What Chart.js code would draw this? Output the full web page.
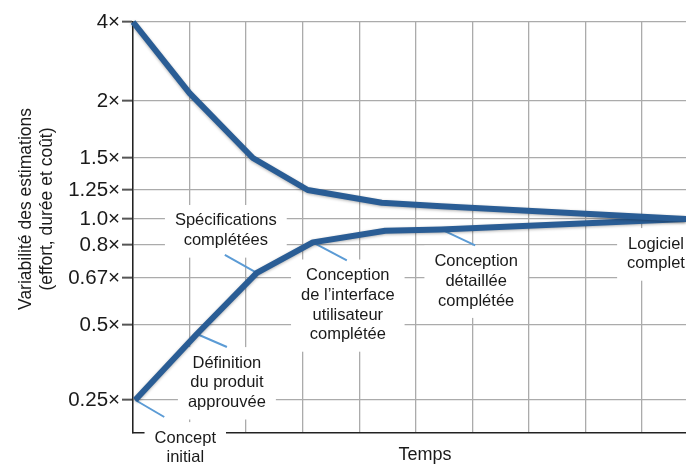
<!DOCTYPE html>
<html>
<head>
<meta charset="utf-8">
<script src="https://cdn.jsdelivr.net/npm/chart.js@4/dist/chart.umd.min.js"></script>
<style>
  html, body { margin: 0; padding: 0; background: #fff; overflow: hidden; }
  canvas { display: block; }
</style>
</head>
<body>
<canvas id="cone" width="686" height="464"></canvas>
<script>
// Cone of uncertainty
const yTicks = [0.25, 0.5, 0.67, 0.8, 1.0, 1.25, 1.5, 2, 4];
const yTickLabels = ['0.25×', '0.5×', '0.67×', '0.8×', '1.0×', '1.25×', '1.5×', '2×', '4×'];
// the drawing spaces its ticks unevenly: height of each tick above the time axis
const yTickLevel = [33, 108, 155, 188, 214, 243, 275, 332, 411];

const upperTime = [0, 1.0, 2.12, 3.09, 4.4, 5.45, 9.78];
const upperRange = [4, 2.2, 1.5, 1.25, 1.14, 1.11, 1.0];
const lowerTime = [0.04, 1.13, 2.19, 3.18, 4.46, 5.45, 9.78];
const lowerRange = [0.25, 0.47, 0.69, 0.82, 0.91, 0.92, 1.0];

const milestones = [
    ['Concept', 'initial'],
    ['Définition', 'du produit', 'approuvée'],
    ['Spécifications', 'complétées'],
    ['Conception', 'de l’interface', 'utilisateur', 'complétée'],
    ['Conception', 'détaillée', 'complétée'],
    ['Logiciel', 'complet']
];
const milestonePoint = [0, 1, 2, 3, 5, 6]; // index on the lower curve

const yTitle = ['Variabilité des estimations', '(effort, durée et coût)'];
const xTitle = 'Temps';

const FONT = '"Liberation Sans", Arial, Helvetica, sans-serif';
Chart.defaults.font.family = FONT;

// piecewise mapping of a multiplier onto the uneven axis
function level(v) {
    for (let i = 0; i < yTicks.length - 1; i++) {
        if (v <= yTicks[i + 1]) {
            const t = (v - yTicks[i]) / (yTicks[i + 1] - yTicks[i]);
            return yTickLevel[i] + t * (yTickLevel[i + 1] - yTickLevel[i]);
        }
    }
    return yTickLevel[yTickLevel.length - 1];
}

const toPoints = (xs, vs) => xs.map((x, i) => ({ x: x, y: level(vs[i]) }));

// label placement around each milestone: callout tip and text centre (offsets from the point)
const noteLayout = [
    { tip: [29, 17], at: [50, 38] },
    { tip: [30, 13], at: [30, 29] },
    { tip: [-32, -18], at: [-31, -52] },
    { tip: [34, 18], at: [35, 33] },
    { tip: [34, 16], at: [35, 32] },
    { tip: null, at: [-30, 25] }
];

const notesPlugin = {
    id: 'notes',
    beforeDatasetsDraw(chart) {
        const ctx = chart.ctx;
        const meta = chart.getDatasetMeta(1);
        const lh = 19.8;
        ctx.save();
        ctx.font = '16.5px ' + FONT;
        ctx.textAlign = 'center';
        ctx.textBaseline = 'middle';
        milestones.forEach((lines, i) => {
            const p = meta.data[milestonePoint[i]];
            const lay = noteLayout[i];
            const cx = p.x + lay.at[0];
            const cy = p.y + lay.at[1];
            const w = Math.max(...lines.map(l => ctx.measureText(l).width));
            ctx.fillStyle = '#fff';
            ctx.fillRect(cx - w / 2 - 10, cy - lh / 2 - 6, w + 20, lines.length * lh + 13);
            if (lay.tip) {
                ctx.strokeStyle = '#5b9bd5';
                ctx.lineWidth = 2;
                ctx.beginPath();
                ctx.moveTo(p.x, p.y);
                ctx.lineTo(p.x + lay.tip[0], p.y + lay.tip[1]);
                ctx.stroke();
            }
            ctx.fillStyle = '#1a1a1a';
            lines.forEach((l, k) => ctx.fillText(l, cx, cy + k * lh));
        });
        ctx.restore();
    },
    beforeDatasetDraw(chart) {
        const ctx = chart.ctx;
        ctx.save();
        ctx.shadowColor = 'rgba(0,0,0,0.3)';
        ctx.shadowBlur = 3;
        ctx.shadowOffsetY = 1;
    },
    afterDatasetDraw(chart) {
        chart.ctx.restore();
    },
    afterDraw(chart) {
        const ctx = chart.ctx;
        ctx.save();
        ctx.fillStyle = '#1a1a1a';
        ctx.textAlign = 'center';
        ctx.textBaseline = 'middle';
        ctx.font = '17.5px ' + FONT;
        ctx.translate(0, 209);
        ctx.rotate(-Math.PI / 2);
        ctx.fillText(yTitle[0], 0, 26);
        ctx.fillText(yTitle[1], 0, 47);
        ctx.restore();
        ctx.save();
        ctx.fillStyle = '#1a1a1a';
        ctx.textAlign = 'center';
        ctx.textBaseline = 'middle';
        ctx.font = '18px ' + FONT;
        ctx.fillText(xTitle, 425, 455);
        ctx.restore();
    }
};

var coneChart = new Chart(document.getElementById('cone').getContext('2d'), {
    type: 'line',
    data: {
        datasets: [{
            data: toPoints(upperTime, upperRange),
            borderColor: '#2a5d95',
            borderWidth: 6,
            borderJoinStyle: 'round',
            pointRadius: 0,
            fill: false,
            clip: false
        }, {
            data: toPoints(lowerTime, lowerRange),
            borderColor: '#2a5d95',
            borderWidth: 6,
            borderJoinStyle: 'round',
            pointRadius: 0,
            fill: false,
            clip: false
        }]
    },
    options: {
        responsive: false,
        devicePixelRatio: 1,
        animation: false,
        layout: { padding: { top: 22, left: 0, right: 0, bottom: 0 } },
        plugins: { legend: { display: false }, tooltip: { enabled: false } },
        scales: {
            x: {
                type: 'linear',
                min: 0,
                max: 9.78,
                afterBuildTicks: s => { s.ticks = [0, 1, 2, 3, 4, 5, 6, 7, 8, 9].map(v => ({ value: v })); },
                afterFit: s => { s.height = 31; },
                ticks: { display: false },
                grid: { color: '#ababab', lineWidth: 1.3, drawTicks: false },
                border: { color: '#222', width: 1.5 }
            },
            y: {
                type: 'linear',
                min: 0,
                max: 411,
                afterBuildTicks: s => { s.ticks = yTickLevel.map(v => ({ value: v })); },
                afterFit: s => { s.width = 133; },
                ticks: {
                    callback: (v, i) => yTickLabels[i],
                    font: { size: 20.5 },
                    color: '#1a1a1a',
                    padding: 2
                },
                grid: { color: '#ababab', lineWidth: 1.3, tickLength: 11, tickColor: '#555', tickWidth: 2 },
                border: { color: '#222', width: 1.5 }
            }
        }
    },
    plugins: [notesPlugin]
});
</script>
</body>
</html>
